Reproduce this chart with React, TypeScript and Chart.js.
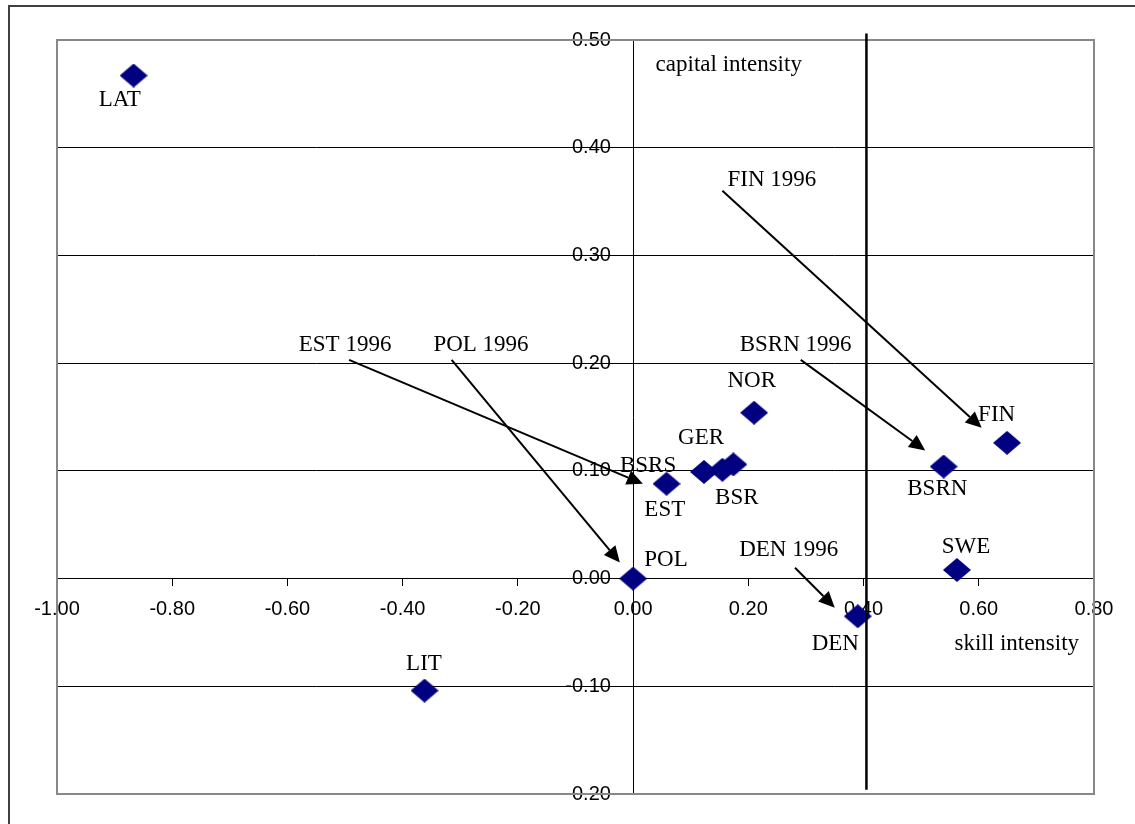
import React, { useEffect, useRef } from 'react';
import { Chart, registerables } from 'chart.js';

Chart.register(...registerables);

// Countries (points) with skill intensity (x) and capital intensity (y)
const countries = ['LAT', 'LIT', 'POL', 'EST', 'GER', 'BSRS', 'BSR', 'NOR', 'DEN', 'SWE', 'BSRN', 'FIN'];
const skillIntensity = [-0.867, -0.362, 0.0, 0.058, 0.123, 0.155, 0.174, 0.21, 0.39, 0.562, 0.539, 0.649];
const capitalIntensity = [0.467, -0.104, 0.0, 0.088, 0.099, 0.101, 0.106, 0.154, -0.035, 0.008, 0.104, 0.126];

// Point labels and axis captions (x centre, baseline y, in data units)
const labelText = ['LAT', 'LIT', 'POL', 'EST', 'GER', 'BSRS', 'BSR', 'NOR', 'DEN', 'SWE', 'BSRN', 'FIN', 'capital intensity', 'skill intensity'];
const labelX = [-0.891, -0.363, 0.057, 0.055, 0.118, 0.026, 0.18, 0.206, 0.351, 0.578, 0.528, 0.631, 0.166, 0.666];
const labelY = [0.439, -0.085, 0.012, 0.058, 0.125, 0.099, 0.069, 0.178, -0.066, 0.024, 0.078, 0.146, 0.471, -0.066];

// 1996 arrows
const arrowText = ['EST 1996', 'POL 1996', 'FIN 1996', 'BSRN 1996', 'DEN 1996'];
const arrowTextX = [-0.5, -0.264, 0.241, 0.282, 0.27];
const arrowTextY = [0.211, 0.211, 0.364, 0.211, 0.021];
const arrowFromX = [-0.493, -0.315, 0.155, 0.291, 0.281];
const arrowFromY = [0.203, 0.203, 0.36, 0.203, 0.01];
const arrowToX = [0.017, -0.023, 0.605, 0.507, 0.35];
const arrowToY = [0.088, 0.015, 0.14, 0.119, -0.027];

// vertical divider line
const dividerX = [0.405, 0.405];
const dividerY = [0.506, -0.196];

const xTickValues = [-1.0, -0.8, -0.6, -0.4, -0.2, 0.0, 0.2, 0.4, 0.6, 0.8];
const yTickValues = [-0.2, -0.1, 0.0, 0.1, 0.2, 0.3, 0.4, 0.5];

const fmt = (v: number | string) => {
  const n = Math.round(Number(v) * 100) / 100;
  return (n === 0 ? 0 : n).toFixed(2);
};

const SERIF = '"Liberation Serif", "Times New Roman", serif';
const SANS = '"Liberation Sans", Arial, sans-serif';

export default function App() {
  const ref = useRef<HTMLCanvasElement>(null);

  useEffect(() => {
    const canvas = ref.current!;
    const diamond = document.createElement('canvas');
    diamond.width = 28;
    diamond.height = 24;
    const dc = diamond.getContext('2d')!;
    dc.fillStyle = '#000080';
    dc.beginPath();
    dc.moveTo(0, 12);
    dc.lineTo(14, 0);
    dc.lineTo(28, 12);
    dc.lineTo(14, 24);
    dc.closePath();
    dc.fill();

    const annotate = {
      id: 'annotate',
      beforeDatasetsDraw(chart: any) {
        const { ctx, chartArea } = chart;
        ctx.save();
        ctx.strokeStyle = '#888888';
        ctx.lineWidth = 2;
        ctx.strokeRect(chartArea.left, chartArea.top, chartArea.right - chartArea.left, chartArea.bottom - chartArea.top);
        ctx.restore();
      },
      afterDatasetsDraw(chart: any) {
        const { ctx } = chart;
        const xs = chart.scales.x;
        const ys = chart.scales.y;
        ctx.save();
        // arrows
        ctx.strokeStyle = '#000';
        ctx.fillStyle = '#000';
        ctx.lineWidth = 2;
        for (let i = 0; i < arrowText.length; i++) {
          const x1 = xs.getPixelForValue(arrowFromX[i]);
          const y1 = ys.getPixelForValue(arrowFromY[i]);
          const x2 = xs.getPixelForValue(arrowToX[i]);
          const y2 = ys.getPixelForValue(arrowToY[i]);
          const ang = Math.atan2(y2 - y1, x2 - x1);
          const len = 16;
          const hw = 7.5;
          const bx = x2 - len * Math.cos(ang);
          const by = y2 - len * Math.sin(ang);
          ctx.beginPath();
          ctx.moveTo(x1, y1);
          ctx.lineTo(bx, by);
          ctx.stroke();
          ctx.beginPath();
          ctx.moveTo(x2, y2);
          ctx.lineTo(bx - hw * Math.sin(ang), by + hw * Math.cos(ang));
          ctx.lineTo(bx + hw * Math.sin(ang), by - hw * Math.cos(ang));
          ctx.closePath();
          ctx.fill();
        }
        // texts
        ctx.font = '23px ' + SERIF;
        ctx.textAlign = 'center';
        ctx.textBaseline = 'alphabetic';
        ctx.fillStyle = '#000';
        for (let i = 0; i < labelText.length; i++) {
          ctx.fillText(labelText[i], xs.getPixelForValue(labelX[i]), ys.getPixelForValue(labelY[i]));
        }
        for (let i = 0; i < arrowText.length; i++) {
          ctx.fillText(arrowText[i], xs.getPixelForValue(arrowTextX[i]), ys.getPixelForValue(arrowTextY[i]));
        }
        ctx.restore();
      },
    };

    const chart = new Chart(canvas, {
      type: 'scatter',
      data: {
        datasets: [
          {
            label: 'countries',
            data: countries.map((c, i) => ({ x: skillIntensity[i], y: capitalIntensity[i] })),
            pointStyle: diamond as any,
            pointRadius: 13,
            backgroundColor: '#000080',
            borderColor: '#000080',
            order: 1,
          },
          {
            label: 'divider',
            data: dividerX.map((x, i) => ({ x, y: dividerY[i] })),
            showLine: true,
            pointRadius: 0,
            borderColor: '#000',
            borderWidth: 2.5,
            clip: false as any,
            order: 0,
          },
        ],
      },
      options: {
        responsive: true,
        maintainAspectRatio: false,
        animation: false,
        events: [],
        layout: { padding: { left: 57, right: 41, top: 40, bottom: 30 } },
        plugins: { legend: { display: false }, tooltip: { enabled: false } },
        scales: {
          x: {
            type: 'linear',
            min: -1,
            max: 0.8,
            position: { y: 0 } as any,
            afterFit: (s: any) => { s.height = 0; },
            afterBuildTicks: (s: any) => { s.ticks = xTickValues.map((v) => ({ value: v })); },
            grid: { drawOnChartArea: false, drawTicks: true, tickLength: 7, color: '#000', tickColor: '#000' },
            border: { display: true, color: '#000', width: 1 },
            ticks: { font: { family: SANS, size: 20 }, color: '#000', padding: 12, autoSkip: false, maxRotation: 0, callback: fmt },
          },
          y: {
            type: 'linear',
            min: -0.2,
            max: 0.5,
            position: { x: 0 } as any,
            afterFit: (s: any) => { s.width = 0; },
            afterBuildTicks: (s: any) => { s.ticks = yTickValues.map((v) => ({ value: v })); },
            grid: {
              drawOnChartArea: true,
              drawTicks: true,
              tickLength: 7,
              color: (c: any) => (c.index === 0 || c.index === yTickValues.length - 1 ? 'rgba(0,0,0,0)' : '#000'),
              tickColor: '#000',
            },
            border: { display: true, color: '#000', width: 1 },
            ticks: {
              font: { family: SANS, size: 20 },
              color: '#000',
              padding: 13,
              autoSkip: false,
              callback: (v: number | string) => fmt(v) + '    ',
            },
          },
        },
      },
      plugins: [annotate],
    });
    return () => chart.destroy();
  }, []);

  return (
    <>
      <div style={{ position: 'fixed', left: 8, top: 5, right: -20, bottom: -20, border: '2px solid #404040' }} />
      <div style={{ position: 'fixed', left: 0, top: 0, width: 1135, height: 824 }}>
        <canvas ref={ref} />
      </div>
    </>
  );
}
